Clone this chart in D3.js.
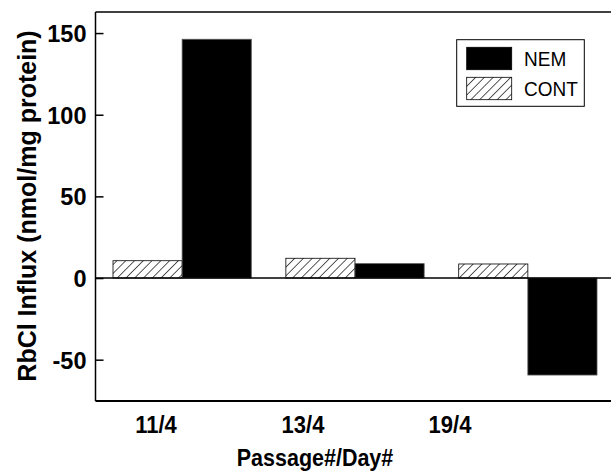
<!DOCTYPE html>
<html>
<head>
<meta charset="utf-8">
<script src="https://cdn.jsdelivr.net/npm/d3@7"></script>
<style>
  html, body { margin: 0; padding: 0; background: #fff; }
  svg { display: block; font-family: "Liberation Sans", Arial, Helvetica, sans-serif; }
</style>
</head>
<body>
<svg id="chart" width="611" height="472"></svg>
<script>
// ---- data ----
const categories = ["11/4", "13/4", "19/4"];
const seriesNames = ["CONT", "NEM"];
const contValues = [10.6, 12.1, 8.6];
const nemValues = [146.2, 8.8, -59.4];
const yTickValues = [-50, 0, 50, 100, 150];
const legendOrder = ["NEM", "CONT"];

const svg = d3.select("#chart");
const defs = svg.append("defs");
const pat = defs.append("pattern")
  .attr("id", "hatch")
  .attr("patternUnits", "userSpaceOnUse")
  .attr("width", 6.2).attr("height", 6.2)
  .attr("patternTransform", "rotate(45)");
pat.append("rect").attr("width", 6.2).attr("height", 6.2).attr("fill", "#fff");
pat.append("line").attr("x1", 0).attr("y1", 0).attr("x2", 0).attr("y2", 6.2)
  .attr("stroke", "#000").attr("stroke-width", 1.3);

const plotLeft = 95.5, plotRight = 611, plotTop = 12, plotBottom = 401;

const y = d3.scaleLinear().domain([-75.3, 162.9]).range([plotBottom, plotTop]);
const x0 = d3.scaleBand().domain(categories).range([113, 597]).paddingInner(0.2).paddingOuter(0);
const x1 = d3.scaleBand().domain(seriesNames).range([0, x0.bandwidth()]);
const xLabel = d3.scalePoint().domain(categories).range([156, 450]);

const rows = categories.map((c, i) => ({ cat: c, CONT: contValues[i], NEM: nemValues[i] }));
const fills = { NEM: "#000", CONT: "url(#hatch)" };

// bars
const g = svg.append("g");
rows.forEach(r => {
  seriesNames.forEach(s => {
    const v = r[s];
    g.append("rect")
      .attr("x", x0(r.cat) + x1(s))
      .attr("width", x1.bandwidth())
      .attr("y", y(Math.max(0, v)))
      .attr("height", Math.abs(y(v) - y(0)))
      .attr("fill", fills[s])
      .attr("stroke", s === "NEM" ? "#555" : "#000")
      .attr("stroke-width", 0.8);
  });
});

// zero line
svg.append("line")
  .attr("x1", plotLeft).attr("x2", plotRight)
  .attr("y1", y(0)).attr("y2", y(0))
  .attr("stroke", "#000").attr("stroke-width", 1.5);

// top and bottom frame
svg.append("line").attr("x1", plotLeft).attr("x2", plotRight)
  .attr("y1", plotTop).attr("y2", plotTop).attr("stroke", "#000").attr("stroke-width", 1.5);
svg.append("line").attr("x1", plotLeft).attr("x2", plotRight)
  .attr("y1", plotBottom).attr("y2", plotBottom).attr("stroke", "#000").attr("stroke-width", 2);

// y axis
const yAxis = d3.axisLeft(y).tickValues(yTickValues).tickFormat(d => String(d))
  .tickSizeInner(-8).tickSizeOuter(0).tickPadding(9);
const ya = svg.append("g").attr("transform", `translate(${plotLeft},0)`).call(yAxis);
ya.select(".domain").attr("stroke", "#000").attr("stroke-width", 1.5)
  .attr("d", `M0,${plotTop}V${plotBottom}`);
ya.selectAll(".tick line").attr("stroke", "#000").attr("stroke-width", 1.5);
ya.selectAll(".tick text")
  .attr("font-size", 23.5).attr("font-weight", "bold").attr("fill", "#000")
  .attr("font-family", "'Liberation Sans', Arial, sans-serif")
  .attr("dy", "0.36em");

// x labels (positions from point scale)
const xa = svg.append("g");
categories.forEach(c => {
  xa.append("text")
    .attr("transform", `translate(${xLabel(c)},432.5) scale(1,1.1)`)
    .attr("text-anchor", "middle")
    .attr("font-size", 22).attr("font-weight", "bold")
    .text(c);
});

// axis titles
svg.append("text")
  .attr("transform", "translate(315,465.5) scale(1,1.08)")
  .attr("text-anchor", "middle")
  .attr("font-size", 21.5).attr("font-weight", "bold")
  .text("Passage#/Day#");

svg.append("text")
  .attr("transform", "translate(35.5,206) rotate(-90)")
  .attr("text-anchor", "middle")
  .attr("font-size", 25).attr("font-weight", "bold")
  .text("RbCl Influx (nmol/mg protein)");

// legend
const lg = svg.append("g");
lg.append("rect").attr("x", 456.7).attr("y", 39.7).attr("width", 127.6).attr("height", 66.6)
  .attr("fill", "#fff").attr("stroke", "#000").attr("stroke-width", 1);
legendOrder.forEach((s, i) => {
  const yy = 47.3 + i * 30;
  lg.append("rect").attr("x", 466.7).attr("y", yy).attr("width", 45).attr("height", 22.4)
    .attr("fill", fills[s]).attr("stroke", "#000").attr("stroke-width", 0.8);
  lg.append("text").attr("transform", `translate(524,${yy + 18.2}) scale(1,1.08)`)
    .attr("font-size", 19).text(s);
});
</script>
</body>
</html>
